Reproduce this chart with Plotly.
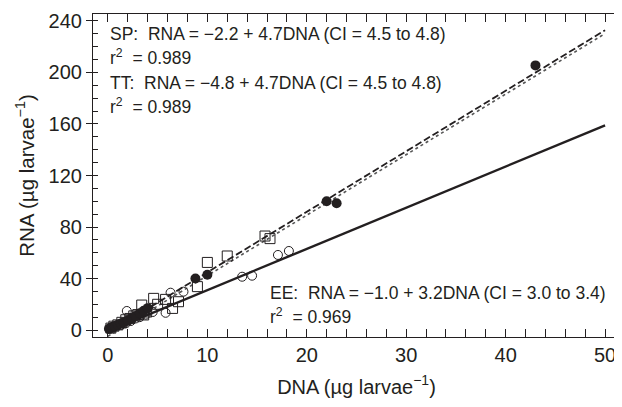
import plotly.graph_objects as go

# ---- data ----
sp_dna = [0.1, 0.3, 0.5, 0.7, 1.0, 1.3, 1.6, 2.0, 2.4, 2.8, 3.2, 3.6, 4.0, 8.8, 10.0, 22.0, 23.0, 43.0]
sp_rna = [1, 2, 2.5, 3, 4, 5, 6, 7.5, 9, 11, 13, 15, 17, 40, 43, 100, 98.5, 205.5]

tt_dna = [0.3, 0.6, 1.0, 1.4, 1.8, 2.2, 2.6, 3.0, 3.4, 3.6, 3.9, 4.6, 5.0, 5.8, 6.5, 7.1, 9.0, 10.0, 12.0, 15.8, 16.3]
tt_rna = [1.5, 3, 4, 6, 8, 9, 11, 12, 19.4, 11.7, 14, 24.6, 20, 23.8, 16.8, 22, 33.7, 52.5, 57.5, 73, 71]

ee_dna = [0.2, 0.5, 0.8, 1.0, 1.3, 1.6, 1.8, 1.9, 2.3, 2.8, 3.2, 3.8, 4.5, 5.8, 6.3, 7.6, 13.5, 14.5, 17.1, 18.2]
ee_rna = [1, 2, 3, 4, 4, 5, 5.2, 14.8, 7, 9, 10, 12, 14, 13.4, 29, 29.8, 41.4, 42.2, 58.3, 61.4]

fit_x = [0, 50]
sp_fit = (-2.2, 4.7)
tt_fit = (-4.8, 4.7)
ee_fit = (-1.0, 3.2)

x_ticks = [0, 10, 20, 30, 40, 50]
y_ticks = [0, 40, 80, 120, 160, 200, 240]

INK = "#231f20"
FONT = "Liberation Sans, Arial, Helvetica, sans-serif"

fig = go.Figure()

def line_y(fit):
    a, b = fit
    return [a + b * x for x in fit_x]

fig.add_trace(go.Scatter(x=fit_x, y=line_y(ee_fit), mode="lines",
                         line=dict(color=INK, width=2.4), showlegend=False))
fig.add_trace(go.Scatter(x=fit_x, y=line_y(tt_fit), mode="lines",
                         line=dict(color="#555555", width=1.6, dash="3px,3px"), showlegend=False))
fig.add_trace(go.Scatter(x=fit_x, y=line_y(sp_fit), mode="lines",
                         line=dict(color=INK, width=1.8, dash="7px,3px"), showlegend=False))

fig.add_trace(go.Scatter(x=ee_dna, y=ee_rna, mode="markers",
                         marker=dict(symbol="circle-open", size=9, color=INK, line=dict(width=1)),
                         showlegend=False))
fig.add_trace(go.Scatter(x=tt_dna, y=tt_rna, mode="markers",
                         marker=dict(symbol="square-open", size=10, color=INK, line=dict(width=1)),
                         showlegend=False))
fig.add_trace(go.Scatter(x=sp_dna, y=sp_rna, mode="markers",
                         marker=dict(symbol="circle", size=10, color=INK),
                         showlegend=False))

ann_font = dict(family=FONT, size=17.5, color=INK)
texts = [
    (0.0, 1 - (34 - 14) / 323, "SP:  RNA = −2.2 + 4.7DNA (CI = 4.5 to 4.8)"),
    (0.0, 1 - (57 - 14) / 323, "r<sup>2</sup>  = 0.989"),
    (0.0, 1 - (83 - 14) / 323, "TT:  RNA = −4.8 + 4.7DNA (CI = 4.5 to 4.8)"),
    (0.0, 1 - (106 - 14) / 323, "r<sup>2</sup>  = 0.989"),
    (16.1, 1 - (293 - 14) / 323, "EE:  RNA = −1.0 + 3.2DNA (CI = 3.0 to 3.4)"),
    (16.1, 1 - (316 - 14) / 323, "r<sup>2</sup>  = 0.969"),
]
for x, yp, t in texts:
    fig.add_annotation(x=x, y=yp, xref="x", yref="paper", text=t, showarrow=False,
                       xanchor="left", yanchor="middle", font=ann_font)

fig.update_layout(
    width=614, height=399,
    margin=dict(l=85, r=2, t=6, b=70),
    paper_bgcolor="white", plot_bgcolor="white",
    font=dict(family=FONT, color=INK),
    xaxis=dict(range=[-1.5, 51.5], tickvals=x_ticks, ticks="inside", ticklen=8, tickwidth=1,
               tickcolor=INK, showline=True, linecolor=INK, linewidth=1.2, mirror="allticks",
               showgrid=False, zeroline=False, tickfont=dict(size=20, family=FONT, color=INK),
               minor=dict(dtick=2, ticks="inside", ticklen=4, tickcolor=INK, tickwidth=1),
               title=dict(text="DNA (µg larvae<sup>−1</sup>)", font=dict(size=20, family=FONT, color=INK),
                          standoff=14)),
    yaxis=dict(range=[-5.4, 245.4], tickvals=y_ticks, ticks="outside", ticklen=6, tickwidth=1,
               tickcolor=INK, showline=True, linecolor=INK, linewidth=1.2, mirror=True,
               showgrid=False, zeroline=False, tickfont=dict(size=20, family=FONT, color=INK),
               minor=dict(dtick=10, ticks="inside", ticklen=5, tickcolor=INK, tickwidth=1),
               title=dict(text="RNA (µg larvae<sup>−1</sup>)", font=dict(size=20.5, family=FONT, color=INK),
                          standoff=8)),
    yaxis2=dict(range=[-5.4, 245.4], overlaying="y", side="right", tickvals=y_ticks,
                ticks="inside", ticklen=5, tickcolor=INK, showticklabels=False, showgrid=False,
                zeroline=False, minor=dict(dtick=10, ticks="inside", ticklen=5, tickcolor=INK)),
)
# dummy trace to activate right axis
fig.add_trace(go.Scatter(x=[None], y=[None], yaxis="y2", showlegend=False))

fig.write_html("out.html")
